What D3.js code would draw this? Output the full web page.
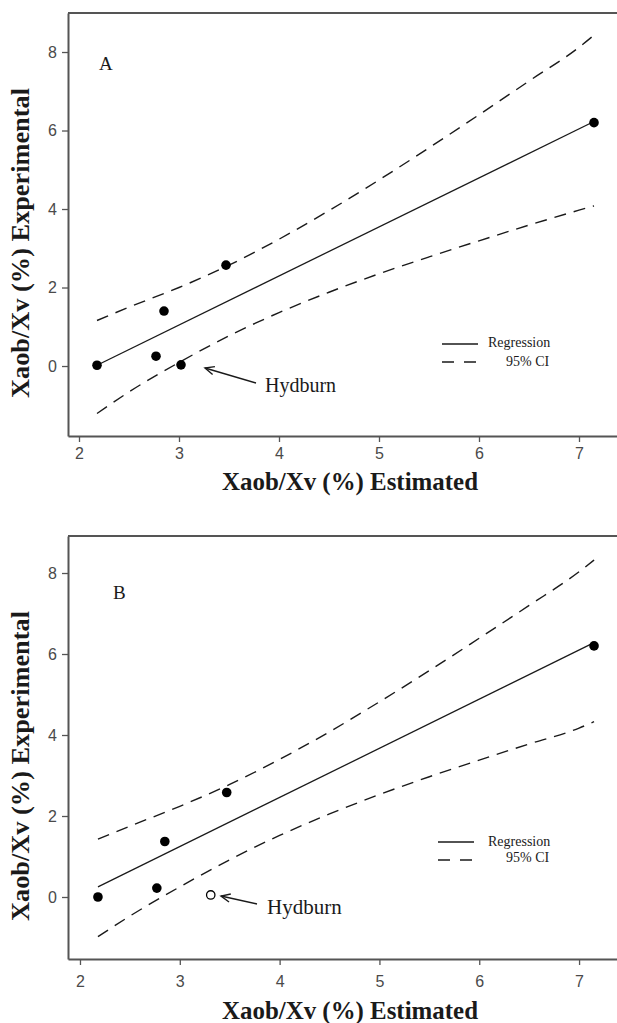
<!DOCTYPE html>
<html>
<head>
<meta charset="utf-8">
<script src="https://cdn.jsdelivr.net/npm/d3@7"></script>
<style>
  html, body { margin: 0; padding: 0; background: #fff; }
  svg { display: block; }
</style>
</head>
<body>
<svg id="chart" width="617" height="1023"></svg>
<script>
// ---------- data ----------
const xTicks = [2, 3, 4, 5, 6, 7];
const yTicks = [0, 2, 4, 6, 8];

// Panel A
const estA = [2.18, 2.77, 2.85, 3.02, 3.47, 7.15];
const expA = [0.02, 0.25, 1.40, 0.03, 2.57, 6.20];
const regXA = [2.18, 7.15];
const regYA = [0.02, 6.23];
const ciXA = [2.18, 2.5, 3, 3.5, 4, 4.5, 5, 5.5, 6, 6.5, 7, 7.15];
const ciUpperA = [1.16, 1.50, 2.00, 2.57, 3.23, 3.96, 4.74, 5.56, 6.40, 7.26, 8.12, 8.43];
const ciLowerA = [-1.21, -0.66, 0.09, 0.77, 1.36, 1.88, 2.35, 2.78, 3.19, 3.59, 3.97, 4.08];

// Panel B
const estB = [2.18, 2.77, 2.85, 3.47, 7.15];
const expB = [0.00, 0.22, 1.37, 2.58, 6.20];
const hydburnB = [3.31, 0.05];
const regXB = [2.18, 7.15];
const regYB = [0.25, 6.28];
const ciXB = [2.18, 2.5, 3, 3.5, 4, 4.5, 5, 5.5, 6, 6.5, 7, 7.15];
const ciUpperB = [1.43, 1.75, 2.24, 2.78, 3.40, 4.08, 4.82, 5.59, 6.39, 7.20, 8.03, 8.32];
const ciLowerB = [-0.98, -0.47, 0.25, 0.92, 1.52, 2.05, 2.53, 2.97, 3.38, 3.78, 4.17, 4.33];

const xTitle = "Xaob/Xv (%) Estimated";
const yTitle = "Xaob/Xv (%) Experimental";
const legendLabels = ["Regression", "95% CI"];
const annotation = "Hydburn";

// ---------- drawing ----------
const svg = d3.select("#chart");
const serif = "'Liberation Serif', 'Times New Roman', serif";
const sans = "'Liberation Sans', Arial, sans-serif";
const axisColor = "#555";
const ink = "#1a1a1a";

function drawPanel(p) {
  const g = svg.append("g");
  const x = d3.scaleLinear().domain(p.xDomain).range([p.left, p.right]);
  const y = d3.scaleLinear().domain(p.yDomain).range([p.bottom, p.top]);

  // frame: top line
  g.append("line").attr("x1", p.left).attr("x2", p.right)
    .attr("y1", p.top).attr("y2", p.top)
    .attr("stroke", axisColor).attr("stroke-width", 2);

  // axes
  const ax = g.append("g").attr("transform", `translate(0,${p.bottom})`)
    .call(d3.axisBottom(x).tickValues(xTicks).tickFormat(d3.format("d"))
      .tickSize(6).tickSizeOuter(0).tickPadding(p.xPad));
  const ay = g.append("g").attr("transform", `translate(${p.left},0)`)
    .call(d3.axisLeft(y).tickValues(yTicks).tickFormat(d3.format("d"))
      .tickSize(6).tickSizeOuter(0).tickPadding(5));
  [ax, ay].forEach(a => {
    a.select(".domain").attr("stroke", axisColor).attr("stroke-width", 2);
    a.selectAll(".tick line").attr("stroke", axisColor).attr("stroke-width", 1.3);
    a.selectAll(".tick text").attr("fill", "#4a4a4a")
      .style("font-family", sans).style("font-size", "16px");
  });

  const line = d3.line().x(d => x(d[0])).y(d => y(d[1]));
  const curve = d3.line().x(d => x(d[0])).y(d => y(d[1])).curve(d3.curveMonotoneX);

  // regression
  g.append("path").datum(d3.zip(p.regX, p.regY))
    .attr("d", line).attr("fill", "none").attr("stroke", ink).attr("stroke-width", 1.3);
  // CI
  [p.ciU, p.ciL].forEach(arr => {
    g.append("path").datum(d3.zip(p.ciX, arr))
      .attr("d", curve).attr("fill", "none").attr("stroke", ink)
      .attr("stroke-width", 1.4).attr("stroke-dasharray", "12,8");
  });

  // points
  g.selectAll("circle.pt").data(d3.zip(p.est, p.exp)).join("circle")
    .attr("class", "pt").attr("cx", d => x(d[0])).attr("cy", d => y(d[1]))
    .attr("r", 4.8).attr("fill", "#000");
  if (p.open) {
    g.append("circle").attr("cx", x(p.open[0])).attr("cy", y(p.open[1]))
      .attr("r", 4.2).attr("fill", "#fff").attr("stroke", "#000").attr("stroke-width", 1.3);
  }

  // panel label
  g.append("text").attr("x", p.labelX).attr("y", p.labelY)
    .text(p.label).style("font-family", serif)
    .style("font-size", "19px").attr("fill", ink);

  // annotation arrow
  const a = p.arrow;
  g.append("line").attr("x1", a[0]).attr("y1", a[1]).attr("x2", a[2]).attr("y2", a[3])
    .attr("stroke", ink).attr("stroke-width", 1.4);
  const ang = Math.atan2(a[1] - a[3], a[0] - a[2]);
  const hl = 10, hw = 0.42;
  g.append("path")
    .attr("d", `M${a[2] + hl * Math.cos(ang + hw)},${a[3] + hl * Math.sin(ang + hw)} L${a[2]},${a[3]} L${a[2] + hl * Math.cos(ang - hw)},${a[3] + hl * Math.sin(ang - hw)}`)
    .attr("fill", "none").attr("stroke", ink).attr("stroke-width", 1.4);
  g.append("text").attr("x", p.annX).attr("y", p.annY).text(annotation)
    .style("font-family", serif).style("font-size", p.annSize + "px").attr("fill", ink);

  // legend
  const lg = g.append("g");
  lg.append("line").attr("x1", p.legX).attr("x2", p.legX + 36)
    .attr("y1", p.legY1).attr("y2", p.legY1).attr("stroke", ink).attr("stroke-width", 1.3);
  lg.append("line").attr("x1", p.legX).attr("x2", p.legX + 36)
    .attr("y1", p.legY2).attr("y2", p.legY2).attr("stroke", ink).attr("stroke-width", 1.3)
    .attr("stroke-dasharray", "12,10");
  lg.append("text").attr("x", 488).attr("y", p.legT1).text(legendLabels[0])
    .style("font-family", serif).style("font-size", "14px").attr("fill", ink);
  lg.append("text").attr("x", 506).attr("y", p.legT2).text(legendLabels[1])
    .style("font-family", serif).style("font-size", "14px").attr("fill", ink);

  // axis titles
  g.append("text").attr("x", 350).attr("y", p.xTitleY).attr("text-anchor", "middle")
    .attr("textLength", 256).attr("lengthAdjust", "spacingAndGlyphs")
    .text(xTitle).style("font-family", serif).style("font-weight", "bold")
    .style("font-size", "25px").attr("fill", ink);
  g.append("text").attr("transform", `translate(29,${p.yTitleY}) rotate(-90)`)
    .attr("text-anchor", "middle")
    .attr("textLength", 310).attr("lengthAdjust", "spacingAndGlyphs")
    .text(yTitle).style("font-family", serif).style("font-weight", "bold")
    .style("font-size", "25px").attr("fill", ink);
}

drawPanel({
  left: 68, right: 617, top: 13, bottom: 436,
  xDomain: [1.89, 7.38], yDomain: [-1.783, 8.994], xPad: 6,
  est: estA, exp: expA, regX: regXA, regY: regYA,
  ciX: ciXA, ciU: ciUpperA, ciL: ciLowerA,
  label: "A", labelX: 99, labelY: 70,
  arrow: [256, 383, 205, 368], annX: 265, annY: 392, annSize: 20,
  legX: 442, legY1: 344, legY2: 362, legT1: 347, legT2: 366,
  xTitleY: 490, yTitleY: 243
});

drawPanel({
  left: 68, right: 617, top: 536, bottom: 959,
  xDomain: [1.88, 7.38], yDomain: [-1.531, 8.914], xPad: 11,
  est: estB, exp: expB, open: hydburnB, regX: regXB, regY: regYB,
  ciX: ciXB, ciU: ciUpperB, ciL: ciLowerB,
  label: "B", labelX: 113, labelY: 599,
  arrow: [257, 904, 221, 896], annX: 267, annY: 914, annSize: 21,
  legX: 438, legY1: 842, legY2: 860, legT1: 846, legT2: 862,
  xTitleY: 1019, yTitleY: 766
});
</script>
</body>
</html>
